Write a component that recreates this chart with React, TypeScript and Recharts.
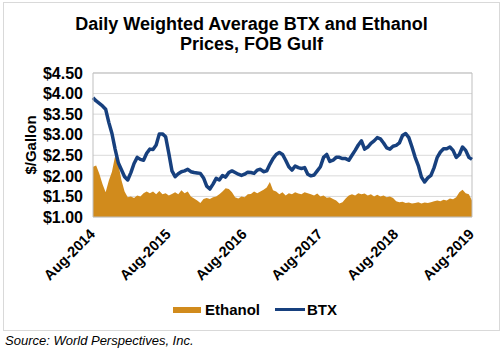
import React from "react";
import {
  ComposedChart,
  Area,
  Line,
  XAxis,
  YAxis,
  CartesianGrid,
  ReferenceLine,
} from "recharts";

// semi-monthly readings, Aug-2014 .. Aug-2019 (121 points)
const BTX = [
  3.9, 3.82, 3.76, 3.7, 3.62, 3.3, 3.03, 2.65, 2.32, 2.15, 1.98, 1.9, 2.08, 2.3, 2.45, 2.4, 2.38, 2.55, 2.65, 2.64,
  2.75, 3.02, 3.02, 2.95, 2.55, 2.12, 1.98, 2.05, 2.1, 2.12, 2.16, 2.1, 2.08, 2.07, 2.06, 1.95, 1.75, 1.68, 1.8, 1.94,
  1.9, 2.01, 1.97, 2.08, 2.12, 2.08, 2.04, 2.01, 2.04, 2.09, 2.08, 2.06, 2.14, 2.16, 2.1, 2.12, 2.28, 2.42, 2.52, 2.57,
  2.52, 2.38, 2.22, 2.14, 2.24, 2.2, 2.18, 2.2, 2.04, 2.0, 2.02, 2.12, 2.22, 2.45, 2.52, 2.35, 2.38, 2.45, 2.45, 2.42,
  2.42, 2.38, 2.5, 2.62, 2.75, 2.85, 2.65, 2.7, 2.79, 2.85, 2.93, 2.9, 2.8, 2.68, 2.65, 2.72, 2.74, 2.8, 2.98, 3.03,
  2.93, 2.7, 2.45, 2.25, 1.97, 1.85, 1.95, 2.01, 2.2, 2.45, 2.58, 2.66, 2.66, 2.7, 2.62, 2.45, 2.52, 2.7, 2.62, 2.45,
  2.4,
];

const ETHANOL = [
  2.22, 2.25, 2.05, 1.8, 1.6, 1.88, 2.1, 2.48, 2.3, 1.9, 1.62, 1.48, 1.5, 1.46, 1.52, 1.5, 1.58, 1.62, 1.58, 1.62,
  1.55, 1.63, 1.55, 1.58, 1.52, 1.56, 1.6, 1.55, 1.65, 1.58, 1.62, 1.5, 1.45, 1.4, 1.34, 1.44, 1.46, 1.44, 1.48, 1.5,
  1.55, 1.62, 1.7, 1.68, 1.6, 1.48, 1.45, 1.5, 1.48, 1.55, 1.56, 1.62, 1.58, 1.62, 1.66, 1.72, 1.85, 1.65, 1.62, 1.55,
  1.6, 1.52, 1.58, 1.55, 1.6, 1.57, 1.55, 1.6, 1.58, 1.55, 1.52, 1.57, 1.5, 1.52, 1.47, 1.48, 1.44, 1.4, 1.33, 1.36,
  1.45, 1.52, 1.55, 1.52, 1.58, 1.55, 1.57, 1.52, 1.55, 1.5, 1.54, 1.5, 1.52, 1.48, 1.5, 1.46, 1.38, 1.36, 1.37, 1.34,
  1.35, 1.33, 1.34, 1.36, 1.33, 1.35, 1.34, 1.36, 1.38, 1.4, 1.38, 1.42, 1.4, 1.45, 1.43, 1.48, 1.6, 1.66, 1.58, 1.55,
  1.4,
];

const X_TICKS = [0, 24, 48, 72, 96, 120];
const X_LABELS = ["Aug-2014", "Aug-2015", "Aug-2016", "Aug-2017", "Aug-2018", "Aug-2019"];
const Y_TICKS = [1, 1.5, 2, 2.5, 3, 3.5, 4, 4.5];

const data = BTX.map((v, i) => ({ t: i, btx: v, ethanol: ETHANOL[i] }));

const FONT = "Arial, 'Liberation Sans', sans-serif";
const ORANGE = "#D18B1C";
const BLUE = "#17407E";

const XTick = (props: any) => {
  const { x, y, payload } = props;
  const idx = X_TICKS.indexOf(payload.value);
  const ax = x + 3;
  const ay = y + 10;
  return (
    <text
      x={ax}
      y={ay}
      transform={`rotate(-45, ${ax}, ${ay})`}
      textAnchor="end"
      fontFamily={FONT}
      fontWeight="bold"
      fontSize={14.5}
      fill="#000"
    >
      {X_LABELS[idx]}
    </text>
  );
};

export default function App() {
  return (
    <div style={{ position: "absolute", left: 0, top: 0, width: 501, height: 352, background: "#fff", fontFamily: FONT }}>
      <div
        style={{
          position: "absolute",
          left: 3,
          top: 2,
          width: 495,
          height: 327,
          border: "1px solid #d9d9d9",
        }}
      />
      <div
        style={{
          position: "absolute",
          left: 3,
          top: 14,
          width: 497,
          textAlign: "center",
          fontWeight: "bold",
          fontSize: 18,
          lineHeight: "20px",
          color: "#000",
        }}
      >
        Daily Weighted Average BTX and Ethanol
        <br />
        Prices, FOB Gulf
      </div>
      <div
        style={{
          position: "absolute",
          left: 30,
          top: 145,
          transform: "translate(-50%, -50%) rotate(-90deg)",
          fontWeight: "bold",
          fontSize: 15,
          whiteSpace: "nowrap",
        }}
      >
        $/Gallon
      </div>
      <div style={{ position: "absolute", left: 0, top: 0 }}>
        <ComposedChart width={501} height={352} data={data} margin={{ top: 73, right: 29, bottom: 55, left: 0 }}>
          <CartesianGrid vertical={false} stroke="#d9d9d9" />
          <XAxis
            dataKey="t"
            type="number"
            domain={[0, 120]}
            ticks={X_TICKS}
            tick={<XTick />}
            tickLine={false}
            axisLine={{ stroke: "#bfbfbf" }}
            height={80}
            interval={0}
          />
          <YAxis
            domain={[1, 4.5]}
            ticks={Y_TICKS}
            width={93}
            tickLine={false}
            tickMargin={4}
            axisLine={{ stroke: "#bfbfbf" }}
            tickFormatter={(v: number) => `$${v.toFixed(2)}`}
            tick={{ fill: "#000", fontSize: 16, fontWeight: "bold", fontFamily: FONT }}
            interval={0}
          />
          <ReferenceLine x={120} stroke="#bfbfbf" />
          <ReferenceLine y={4.5} stroke="#bfbfbf" />
          <Area
            dataKey="ethanol"
            type="linear"
            stroke="none"
            fill={ORANGE}
            fillOpacity={1}
            isAnimationActive={false}
          />
          <Line dataKey="btx" type="linear" stroke={BLUE} strokeWidth={3.5} strokeLinejoin="round" dot={false} isAnimationActive={false} />
        </ComposedChart>
      </div>
      <div style={{ position: "absolute", left: 173, top: 301, display: "flex", alignItems: "center", fontWeight: "bold", fontSize: 15 }}>
        <span style={{ display: "inline-block", width: 28, height: 6, background: ORANGE, marginRight: 4 }} />
        <span>Ethanol</span>
        <span style={{ display: "inline-block", width: 30, height: 3, background: BLUE, marginLeft: 15, marginRight: 2 }} />
        <span>BTX</span>
      </div>
      <div style={{ position: "absolute", left: 5, top: 333, fontStyle: "italic", fontSize: 13, color: "#000" }}>
        Source: World Perspectives, Inc.
      </div>
    </div>
  );
}
